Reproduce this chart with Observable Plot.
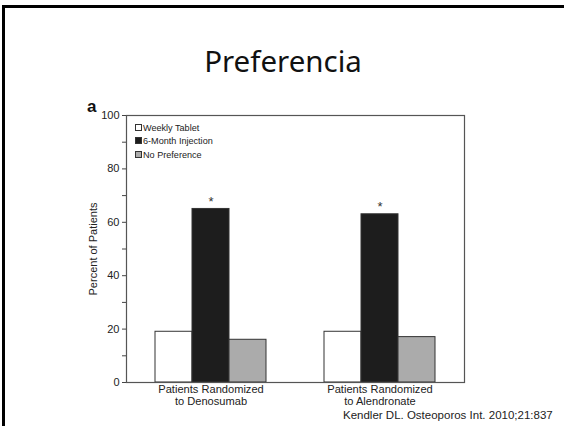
<!DOCTYPE html>
<html>
<head>
<meta charset="utf-8">
<script src="https://cdn.jsdelivr.net/npm/d3@7"></script>
<script src="https://cdn.jsdelivr.net/npm/@observablehq/plot@0.6"></script>
<style>
  html, body { margin: 0; padding: 0; background: #fff; }
  #slide { position: relative; width: 564px; height: 426px; overflow: hidden; background: #fff; }
  #border { position: absolute; left: 2px; top: 5px; right: -5px; bottom: -5px; border-top: 3px solid #000; border-left: 3px solid #000; }
  #title { position: absolute; left: 0; width: 566px; top: 40px; text-align: center; font-family: "Noto Sans", sans-serif; font-size: 29.5px; color: #111; }
  #panel { position: absolute; left: 87px; top: 97px; font-family: "Liberation Sans", Arial, sans-serif; font-weight: bold; font-size: 17px; color: #111; }
  #chart { position: absolute; left: 0; top: 95px; }
  #legend { position: absolute; left: 135px; top: 122px; font-family: "Liberation Sans", Arial, sans-serif; font-size: 9.1px; color: #222; line-height: 13.3px; }
  #legend .sw { display: inline-block; width: 5px; height: 5px; border: 1px solid #333; margin-right: 1px; vertical-align: 0px; }
  #caption { position: absolute; left: 343px; top: 409.5px; font-family: "Liberation Sans", Arial, sans-serif; font-size: 11.5px; line-height: 11.5px; color: #222; white-space: nowrap; }
</style>
</head>
<body>
<div id="slide">
  <div id="border"></div>
  <div id="title">Preferencia</div>
  <div id="panel">a</div>
  <div id="chart"></div>
  <div id="legend"></div>
  <div id="caption">Kendler DL. Osteoporos Int. 2010;21:837</div>
</div>
<script>
// ---- data ----
const groups = ["Patients Randomized\nto Denosumab", "Patients Randomized\nto Alendronate"];
const series = ["Weekly Tablet", "6-Month Injection", "No Preference"];
const weeklyTablet = [19, 19];
const sixMonthInjection = [65, 63];
const noPreference = [16, 17];
const injectionMarker = ["*", "*"];
const yTicks = [0, 10, 20, 30, 40, 50, 60, 70, 80, 90, 100];
const yTickLabels = [0, 20, 40, 60, 80, 100];
const seriesColors = ["#ffffff", "#1d1d1d", "#ababab"];

const valuesBySeries = [weeklyTablet, sixMonthInjection, noPreference];
const data = groups.flatMap((g, i) => series.map((s, j) => ({group: g, series: s, value: valuesBySeries[j][i]})));
const stars = groups.map((g, i) => ({group: g, series: series[1], value: sixMonthInjection[i], mark: injectionMarker[i]}));

const chart = Plot.plot({
  width: 564,
  height: 321,
  marginLeft: 126,
  marginRight: 100,
  marginTop: 20,
  marginBottom: 34,
  fx: {domain: groups, padding: 0, label: null},
  x: {domain: series, paddingInner: 0, paddingOuter: 0.757, axis: null},
  y: {domain: [0, 100], label: null},
  color: {domain: series, range: seriesColors},
  style: {fontFamily: "Liberation Sans, Arial, sans-serif", fontSize: "11px", color: "#222", background: "transparent"},
  marks: [
    Plot.barY(data, {fx: "group", x: "series", y: "value", fill: "series", stroke: "#333", strokeWidth: 1}),
    Plot.text(stars, {fx: "group", x: "series", y: "value", text: "mark", dy: -7, fontSize: 13, fill: "#333"}),
    Plot.frame({facet: "super", stroke: "#555", strokeWidth: 1.2}),
    Plot.axisY({ticks: yTicks, tickFormat: d => yTickLabels.includes(d) ? d : "", tickSize: 4, tickPadding: 3, stroke: "#444", label: "Percent of Patients", labelAnchor: "center", labelOffset: 37, labelArrow: "none"}),
    Plot.axisFx({anchor: "bottom", label: null, tickSize: 0, tickPadding: 2, lineHeight: 1.1, fontSize: 11.1})
  ]
});
document.getElementById("chart").appendChild(chart);

const legend = document.getElementById("legend");
series.forEach((s, j) => {
  const row = document.createElement("div");
  const sw = document.createElement("span");
  sw.className = "sw";
  sw.style.background = seriesColors[j];
  row.appendChild(sw);
  row.appendChild(document.createTextNode(s));
  legend.appendChild(row);
});
</script>
</body>
</html>
